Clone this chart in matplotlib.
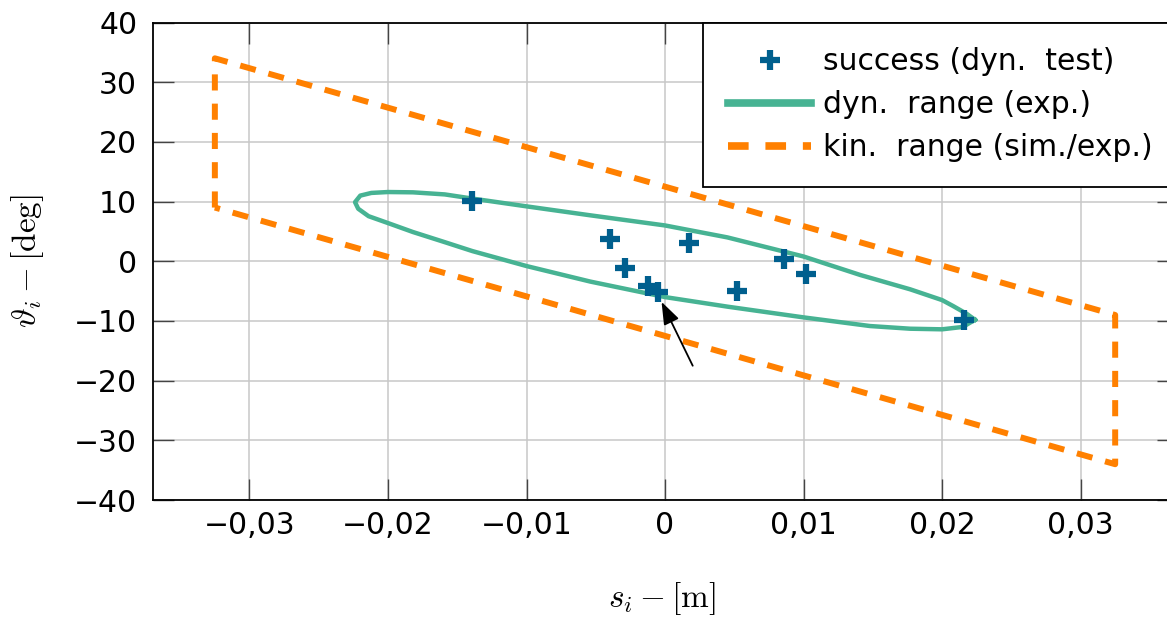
import matplotlib
matplotlib.use("Agg")
import matplotlib.pyplot as plt

# success points of the dynamic test
success_s = [-0.0139, -0.0040, -0.0029, -0.0012, -0.0005, 0.0017, 0.0052, 0.0086, 0.0102, 0.0216]
success_theta = [10.1, 3.8, -1.2, -4.2, -5.2, 3.0, -4.9, 0.3, -2.2, -9.8]

# dynamic range (exp.), read around the closed curve (upper branch, then lower branch)
dyn_s = [0.02238, 0.02178, 0.0208, 0.0200, 0.0177, 0.0141, 0.0100, 0.0045, 0.0, -0.0054,
         -0.0100, -0.0139, -0.0159, -0.0182, -0.0200, -0.0212, -0.0220, -0.02238,
         -0.02215, -0.0214, -0.0200, -0.0182, -0.0159, -0.0139, -0.0100, -0.0054, 0.0,
         0.0045, 0.0100, 0.0148, 0.0177, 0.0200, 0.0215, 0.02238]
dyn_theta = [-9.8, -8.8, -7.5, -6.5, -4.7, -2.3, 0.8, 4.0, 6.0, 7.7,
             9.2, 10.5, 11.2, 11.55, 11.6, 11.45, 11.0, 9.9,
             8.8, 7.55, 6.4, 4.9, 3.2, 1.7, -0.8, -3.4, -6.0,
             -7.6, -9.4, -10.85, -11.3, -11.4, -11.0, -9.8]

# kinematic range (sim./exp.)
kin_s = [-0.0325, -0.0325, 0.0325, 0.0325, -0.0325]
kin_theta = [9.0, 34.0, -9.0, -34.0, 9.0]

arrow_tail = (0.0020, -17.5)
arrow_tip = (-0.00025, -6.8)

xticks = [-0.03, -0.02, -0.01, 0.0, 0.01, 0.02, 0.03]
xtick_labels = ["\u22120,03", "\u22120,02", "\u22120,01", "0", "0,01", "0,02", "0,03"]
yticks = [-40, -30, -20, -10, 0, 10, 20, 30, 40]
ytick_labels = ["\u221240", "\u221230", "\u221220", "\u221210", "0", "10", "20", "30", "40"]

BLUE = "#005f8e"
GREEN = "#47b393"
ORANGE = "#ff8000"

plt.rcParams["font.family"] = ["DejaVu Sans"]
plt.rcParams["mathtext.fontset"] = "cm"

fig = plt.figure(figsize=(11.67, 6.2), dpi=100)
ax = fig.add_axes([0.1307, 0.1935, 0.8783, 0.7702])

ax.plot(success_s, success_theta, linestyle="none", marker="+", markersize=15,
        markeredgewidth=4.5, color=BLUE, label="success (dyn.  test)", zorder=4)
ax.plot(dyn_s, dyn_theta, color=GREEN, lw=3.2, solid_joinstyle="round",
        label="dyn.  range (exp.)", zorder=3)
ax.plot(kin_s, kin_theta, color=ORANGE, lw=4.3, dashes=(2.7, 2.2),
        label="kin.  range (sim./exp.)", zorder=2)

ax.annotate("", xy=arrow_tip, xytext=arrow_tail,
            arrowprops=dict(arrowstyle="-|>,head_length=0.55,head_width=0.2",
                            color="black", lw=1.3, mutation_scale=25,
                            shrinkA=0, shrinkB=0), zorder=5)

ax.set_xlim(-0.037, 0.037)
ax.set_ylim(-40, 40)
ax.set_xticks(xticks, xtick_labels)
ax.set_yticks(yticks, ytick_labels)
ax.grid(True, color="#c8c8c8", lw=1.1)
ax.set_axisbelow(True)
ax.tick_params(direction="in", length=15, width=1.0, color="#444444",
               top=True, right=True, labelsize=21.5)
ax.tick_params(axis="y", pad=11)
ax.tick_params(axis="x", pad=8)
for sp in ax.spines.values():
    sp.set_linewidth(1.3)

ax.set_xlabel(r"$s_i - [\mathrm{m}]$", fontsize=24, va="center")
ax.xaxis.set_label_coords(0.497, -0.207)
ax.set_ylabel(r"$\vartheta_i - [\mathrm{deg}]$", fontsize=24, va="center")
ax.yaxis.set_label_coords(-0.122, 0.5)

leg = ax.legend(loc="upper right", borderaxespad=0, fontsize=21.5, frameon=True,
                fancybox=False, framealpha=1, edgecolor="black", handlelength=2.8,
                handletextpad=0.4, labelspacing=0.47, borderpad=0.82)
leg.get_frame().set_linewidth(1.3)
leg.get_lines()[1].set_linewidth(5.5)
leg.get_lines()[2].set_linewidth(5.5)

fig.savefig("out.png", dpi=100)
